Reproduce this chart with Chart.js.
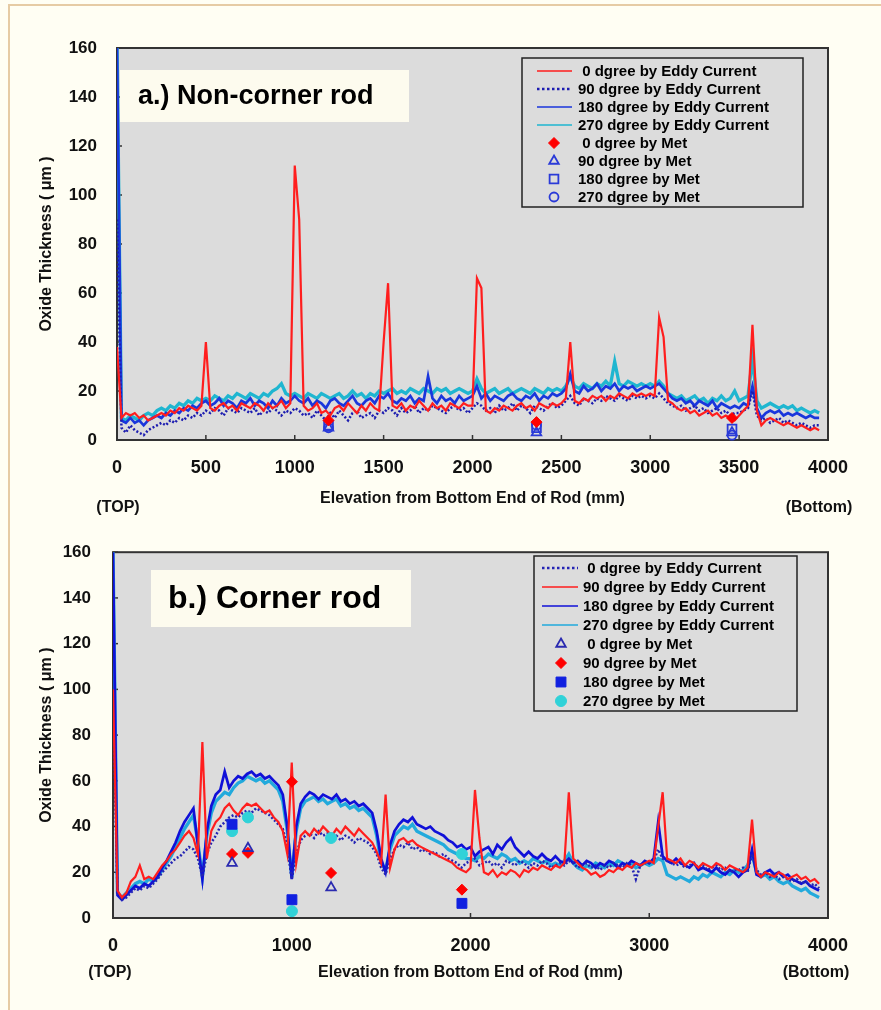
<!DOCTYPE html>
<html>
<head>
<meta charset="utf-8">
<title>Oxide Thickness</title>
<script src="https://cdn.jsdelivr.net/npm/chart.js@4.4.0/dist/chart.umd.min.js"></script>
<style>
  html, body { margin: 0; padding: 0; background: #fffef3; }
  body { width: 881px; height: 1010px; position: relative; overflow: hidden; }
  .marco { position: absolute; left: 8px; top: 4px; width: 900px; height: 1100px;
           border-left: 2px solid #e6cba4; border-top: 2px solid #e6cba4; }
  canvas { position: absolute; left: 0; }
  #graficoA { top: 0; }
  #graficoB { top: 520px; }
</style>
</head>
<body>
<div class="marco"></div>
<canvas id="graficoA" width="881" height="520"></canvas>
<canvas id="graficoB" width="881" height="490"></canvas>
<script>
// Elevacion (mm) de cada lectura de corriente de Foucault, cada 25 mm
const elevacion = [
  0, 25, 50, 75, 100, 125, 150, 175, 200, 225, 250, 275, 300, 325, 350, 375, 400, 425, 450, 475,
  500, 525, 550, 575, 600, 625, 650, 675, 700, 725, 750, 775, 800, 825, 850, 875, 900, 925, 950, 975,
  1000, 1025, 1050, 1075, 1100, 1125, 1150, 1175, 1200, 1225, 1250, 1275, 1300, 1325, 1350, 1375, 1400, 1425, 1450, 1475,
  1500, 1525, 1550, 1575, 1600, 1625, 1650, 1675, 1700, 1725, 1750, 1775, 1800, 1825, 1850, 1875, 1900, 1925, 1950, 1975,
  2000, 2025, 2050, 2075, 2100, 2125, 2150, 2175, 2200, 2225, 2250, 2275, 2300, 2325, 2350, 2375, 2400, 2425, 2450, 2475,
  2500, 2525, 2550, 2575, 2600, 2625, 2650, 2675, 2700, 2725, 2750, 2775, 2800, 2825, 2850, 2875, 2900, 2925, 2950, 2975,
  3000, 3025, 3050, 3075, 3100, 3125, 3150, 3175, 3200, 3225, 3250, 3275, 3300, 3325, 3350, 3375, 3400, 3425, 3450, 3475,
  3500, 3525, 3550, 3575, 3600, 3625, 3650, 3675, 3700, 3725, 3750, 3775, 3800, 3825, 3850, 3875, 3900, 3925, 3950
];

const ticksY = [0, 20, 40, 60, 80, 100, 120, 140, 160];

// ---- a.) barra no esquinera ----
const eddy0A = [
  38, 9, 11, 10, 11, 9, 10, 8, 9, 10, 11, 10, 12, 11, 13, 12, 14, 13, 12, 14,
  40, 13, 12, 14, 15, 13, 14, 12, 15, 14, 13, 15, 14, 12, 15, 13, 14, 16, 13, 15,
  112, 90, 14, 12, 13, 15, 11, 12, 10, 13, 14, 12, 15, 13, 11, 14, 12, 15, 13, 12,
  40, 64, 14, 13, 15, 12, 14, 13, 16, 14, 12, 15, 13, 14, 12, 15, 14, 13, 15, 14,
  14, 66, 62, 12, 11, 13, 12, 14, 13, 12, 14, 15, 13, 14, 12, 15, 14, 13, 15, 14,
  15, 17, 40, 16, 15, 17, 16, 18, 17, 18, 16, 18, 17, 19, 18, 17, 19, 18, 19, 18,
  19, 18, 50, 42, 16, 15, 13, 12, 13, 11, 12, 10, 11, 12, 10, 11, 9, 10, 9, 8,
  10, 12, 14, 47, 12, 6, 8, 9, 8, 7, 6, 7, 6, 5, 6, 5, 4, 5, 4
];
const eddy90A = [
  90, 5, 3, 6, 4, 3, 2, 4, 5, 6, 7, 6, 8, 7, 9, 8, 10, 9, 11, 10,
  12, 11, 13, 12, 10, 13, 12, 11, 13, 12, 11, 13, 10, 12, 11, 13, 12, 10, 12, 11,
  13, 12, 10, 11, 9, 12, 10, 8, 11, 9, 12, 10, 8, 11, 12, 9, 10, 11, 9, 12,
  11, 13, 12, 10, 13, 11, 12, 14, 11, 13, 12, 14, 13, 12, 11, 13, 14, 12, 13, 11,
  13, 15, 14, 12, 13, 11, 14, 12, 13, 15, 12, 14, 13, 11, 14, 13, 12, 14, 15, 13,
  14, 16, 18, 15, 14, 17, 16, 15, 17, 16, 18, 17, 16, 18, 17, 16, 18, 17, 18, 17,
  18, 17, 19, 17, 15, 14, 13, 14, 12, 13, 14, 12, 13, 11, 12, 13, 11, 12, 10, 11,
  11, 12, 13, 20, 10, 8, 9, 7, 8, 9, 7, 8, 7, 6, 7, 6, 5, 6, 6
];
const eddy180A = [
  160, 8, 7, 9, 7, 8, 6, 8, 9, 10, 9, 11, 10, 12, 11, 13, 12, 14, 13, 15,
  16, 14, 15, 17, 14, 16, 15, 13, 16, 15, 17, 14, 16, 15, 13, 16, 14, 17, 15, 16,
  18, 16, 15, 17, 14, 16, 15, 13, 16, 17, 15, 14, 16, 18, 15, 14, 16, 17, 15, 18,
  17, 19, 16, 15, 17, 16, 18, 15, 17, 16, 26, 17, 15, 18, 16, 17, 15, 18, 16, 17,
  18, 22, 17, 19, 16, 18, 17, 16, 18, 19, 17, 16, 18, 17, 19, 16, 18, 17, 19, 18,
  19, 21, 27, 20, 19, 22, 20, 21, 23, 20, 22, 21, 23, 20, 22, 21, 22, 20, 21, 22,
  21, 22, 23, 21, 19, 17, 16, 17, 15, 16, 14, 16, 15, 14, 16, 13, 15, 14, 13, 14,
  13, 15, 14, 22, 13, 9, 11, 12, 11, 12, 10, 11, 10, 11, 10, 9, 10, 9, 9
];
const eddy270A = [
  163, 9, 8, 10, 9, 8, 10, 11, 10, 12, 13, 12, 14, 13, 15, 14, 16, 15, 17, 16,
  17, 16, 18, 17, 16, 18, 17, 19, 18, 17, 19, 18, 17, 19, 18, 20, 21, 23, 19, 18,
  19, 18, 17, 19, 18, 17, 19, 18, 17, 18, 19, 17, 18, 20, 18, 19, 17, 19, 18, 20,
  19, 20, 21, 19, 20, 19, 21, 20, 19, 21, 20, 19, 21, 20, 21, 19, 20, 21, 20, 19,
  20, 25, 21, 19, 20, 21, 19, 20, 21, 19, 20, 21, 20, 19, 21, 20, 19, 21, 20, 21,
  20, 22, 26, 22, 21, 23, 22, 21, 23, 22, 24, 22, 32, 23, 22, 24, 23, 22, 23, 22,
  23, 22, 24, 22, 19, 18, 17, 18, 16, 17, 18, 16, 17, 15, 17, 16, 18, 16, 17, 20,
  16, 17, 18, 33, 16, 13, 14, 15, 14, 13, 14, 13, 14, 12, 13, 12, 11, 12, 11
];
// metalografia (a)
const metElevA = [1190, 2360, 3460];
const met0A = [8, 7.3, 9];
const met90A = [5, 3, 3];
const met180A = [6, 5, 4.5];
const met270A = [5, 6, 2];

// ---- b.) barra esquinera ----
const eddy0B = [
  95, 11, 8, 9, 11, 13, 12, 14, 13, 15, 17, 20, 22, 24, 26, 27, 29, 31, 30, 26,
  18, 28, 33, 36, 40, 42, 44, 45, 44, 46, 47, 46, 48, 47, 46, 45, 43, 41, 39, 31,
  17, 28, 34, 36, 37, 35, 38, 36, 37, 35, 36, 34, 36, 35, 33, 35, 34, 33, 31, 28,
  22, 19, 26, 30, 32, 31, 33, 30, 31, 29, 30, 28, 29, 27, 28, 26, 25, 24, 22, 24,
  25, 26, 23, 24, 25, 23, 24, 22, 25, 24, 23, 25, 24, 22, 24, 23, 25, 24, 22, 23,
  24, 23, 25, 24, 22, 23, 24, 22, 23, 21, 23, 22, 24, 23, 22, 24, 23, 17, 23, 24,
  24, 25, 30, 26, 25, 24, 23, 24, 22, 23, 24, 22, 23, 21, 22, 23, 21, 22, 20, 21,
  21, 22, 20, 28, 21, 19, 20, 18, 19, 17, 18, 17, 16, 17, 15, 16, 14, 15, 13
];
const eddy90B = [
  100, 12, 9, 11, 16, 18, 23, 17, 18, 17, 20, 23, 25, 28, 30, 33, 36, 38, 35, 28,
  77, 26, 38, 42, 44, 48, 50, 47, 45, 48, 50, 49, 50, 48, 46, 47, 44, 42, 38, 28,
  68, 24, 36, 38, 36, 39, 37, 40, 38, 36, 39, 37, 40, 38, 36, 39, 37, 35, 33, 29,
  24, 54, 22, 30, 34, 35, 33, 34, 32, 31, 30, 29, 28, 27, 26, 25, 24, 22, 21, 20,
  22, 56, 35, 20, 19, 21, 18, 20, 19, 21, 20, 18, 21, 20, 22, 21, 23, 22, 21, 23,
  22, 24, 55, 26, 24, 22, 21, 19, 20, 18, 19, 21, 20, 22, 21, 23, 22, 24, 23, 24,
  25, 24, 40, 55, 26, 25, 24, 26, 23, 25, 24, 22, 24, 23, 22, 24, 23, 21, 23, 22,
  21, 20, 22, 43, 20, 18, 20, 19, 18, 20, 19, 17, 18, 19, 17, 18, 16, 17, 15
];
const eddy180B = [
  160, 10, 8, 10, 12, 14, 13, 15, 14, 16, 18, 22, 25, 29, 33, 38, 42, 45, 48, 32,
  17, 38, 49, 54, 56, 64, 57, 60, 62, 61, 63, 64, 62, 63, 61, 62, 60, 58, 54, 40,
  17, 40, 50, 53, 55, 54, 52, 54, 53, 52, 54, 51, 52, 50, 51, 49, 50, 48, 46, 38,
  26, 20, 32, 38, 41, 43, 42, 44, 41, 40, 39, 40, 38, 37, 36, 34, 33, 31, 32, 30,
  31, 27, 29, 30, 31, 28, 32, 30, 33, 35, 31, 29, 27, 29, 27, 26, 28, 26, 25, 27,
  25, 24, 26, 24, 25, 23, 25, 24, 22, 24, 23, 25, 24, 22, 24, 23, 25, 24, 23, 25,
  24, 26, 42, 27, 25, 24, 26, 24, 23, 22, 24, 21, 22, 21, 20, 22, 20, 19, 21, 20,
  18, 20, 21, 30, 19, 18, 20, 21, 19, 20, 18, 19, 17, 16, 15, 16, 14, 13, 12
];
const eddy270B = [
  162, 11, 9, 11, 13, 15, 16, 15, 17, 16, 18, 21, 24, 27, 31, 35, 39, 42, 45, 33,
  18, 36, 46, 51, 53, 55, 54, 57, 59, 60, 62, 61, 60, 61, 59, 60, 58, 56, 51, 38,
  18, 38, 48, 51, 52, 53, 51, 52, 50, 51, 52, 49, 50, 48, 49, 47, 48, 46, 44, 36,
  24, 21, 30, 36, 38, 40, 39, 41, 38, 37, 36, 35, 34, 33, 32, 30, 29, 28, 27, 26,
  26, 25, 27, 26, 28, 27, 26, 28, 27, 25, 26, 24, 25, 24, 26, 25, 24, 25, 23, 24,
  23, 25, 28, 24, 22, 21, 23, 22, 24, 23, 22, 24, 23, 25, 24, 23, 24, 22, 23, 24,
  23, 24, 26, 25, 19, 18, 17, 18, 17, 16, 18, 17, 19, 18, 20, 19, 18, 20, 19, 21,
  20, 21, 23, 28, 20, 18, 19, 17, 18, 16, 15, 16, 14, 13, 12, 13, 11, 10, 9
];
// metalografia (b)
const met0ElevB = [666, 755, 1220];
const met0B = [24, 30.5, 13.3];
const met90ElevB = [666, 755, 1001, 1220, 1952];
const met90B = [28, 28.5, 59.6, 19.7, 12.4];
const met180ElevB = [666, 1001, 1952];
const met180B = [41, 8, 6.4];
const met270ElevB = [666, 755, 1001, 1220, 1952];
const met270B = [38, 44, 3, 35, 28];

const FUENTE = "'Liberation Sans', Arial, sans-serif";

function puntos(xs, ys) {
  return ys.map((y, i) => ({ x: xs[i], y: y }));
}

function serieLinea(label, valores, color, ancho, orden, guiones) {
  return {
    type: 'line', label: label, data: puntos(elevacion, valores),
    borderColor: color, borderWidth: ancho, borderDash: guiones || [],
    pointRadius: 0, tension: 0, fill: false, order: orden
  };
}

function serieMet(label, xs, ys, estilo, color, relleno, radio) {
  return {
    type: 'line', label: label, data: puntos(xs, ys), showLine: false,
    pointStyle: estilo, pointRadius: radio, pointHoverRadius: radio,
    borderColor: color, backgroundColor: relleno ? color : 'rgba(0,0,0,0)',
    pointBorderWidth: relleno ? 1 : 1.8, clip: false, order: 0
  };
}

// Dibuja un marcador de leyenda con el mismo estilo que el dataset
function dibujarMarcador(ctx, ds, x, y) {
  const r = ds.pointRadius;
  ctx.save();
  ctx.strokeStyle = ds.borderColor;
  ctx.fillStyle = ds.backgroundColor;
  ctx.lineWidth = ds.pointBorderWidth;
  ctx.beginPath();
  if (ds.pointStyle === 'rectRot') {
    ctx.moveTo(x, y - r); ctx.lineTo(x + r, y); ctx.lineTo(x, y + r); ctx.lineTo(x - r, y);
  } else if (ds.pointStyle === 'triangle') {
    const h = r * 0.866;
    ctx.moveTo(x, y - r); ctx.lineTo(x + h, y + r / 2); ctx.lineTo(x - h, y + r / 2);
  } else if (ds.pointStyle === 'rect') {
    const s = r * Math.SQRT1_2;
    ctx.rect(x - s, y - s, 2 * s, 2 * s);
  } else {
    ctx.arc(x, y, r, 0, Math.PI * 2);
  }
  ctx.closePath();
  ctx.fill();
  ctx.stroke();
  ctx.restore();
}

// Fondo gris del area, marco, marcas interiores, rotulo y leyenda
const marcoPlot = {
  id: 'marcoPlot',
  beforeDatasetsDraw(chart) {
    const { ctx, chartArea: a } = chart;
    ctx.save();
    ctx.fillStyle = '#dcdcdc';
    ctx.fillRect(a.left, a.top, a.right - a.left, a.bottom - a.top);
    ctx.strokeStyle = '#333';
    ctx.lineWidth = 2;
    ctx.strokeRect(a.left, a.top, a.right - a.left, a.bottom - a.top);
    ctx.lineWidth = 1.5;
    chart.scales.x.ticks.forEach(t => {
      const px = chart.scales.x.getPixelForValue(t.value);
      ctx.beginPath(); ctx.moveTo(px, a.bottom); ctx.lineTo(px, a.bottom - 5); ctx.stroke();
    });
    chart.scales.y.ticks.forEach(t => {
      const py = chart.scales.y.getPixelForValue(t.value);
      ctx.beginPath(); ctx.moveTo(a.left, py); ctx.lineTo(a.left + 5, py); ctx.stroke();
    });
    ctx.restore();
  },
  afterDatasetsDraw(chart, args, o) {
    const ctx = chart.ctx;
    ctx.save();
    // rotulo del grafico
    ctx.fillStyle = '#fdfbee';
    ctx.fillRect(o.rotulo.x, o.rotulo.y, o.rotulo.w, o.rotulo.h);
    ctx.fillStyle = '#000';
    ctx.font = 'bold ' + o.rotulo.size + 'px ' + FUENTE;
    ctx.textBaseline = 'middle';
    ctx.textAlign = 'left';
    ctx.fillText(o.rotulo.texto, o.rotulo.tx, o.rotulo.y + o.rotulo.h / 2 + 1);

    // leyenda
    const L = o.leyenda;
    ctx.fillStyle = '#dcdcdc';
    ctx.fillRect(L.x, L.y, L.w, L.h);
    ctx.strokeStyle = '#222';
    ctx.lineWidth = 1.5;
    ctx.strokeRect(L.x, L.y, L.w, L.h);
    ctx.font = 'bold 15px ' + FUENTE;
    chart.data.datasets.forEach((ds, i) => {
      const y = L.fila0 + i * L.paso;
      if (ds.showLine === false) {
        dibujarMarcador(ctx, ds, L.marca, y);
      } else {
        ctx.save();
        ctx.strokeStyle = ds.borderColor;
        ctx.lineWidth = ds.borderDash.length ? 2.5 : 1.6;
        ctx.setLineDash(ds.borderDash.length ? [2.5, 2.5] : []);
        ctx.beginPath(); ctx.moveTo(L.linea0, y); ctx.lineTo(L.linea1, y); ctx.stroke();
        ctx.restore();
      }
      ctx.fillStyle = '#000';
      ctx.fillText(ds.label, L.texto, y + 1);
    });
    ctx.restore();
  },
  afterDraw(chart, args, o) {
    const ctx = chart.ctx;
    const x = chart.scales.x;
    ctx.save();
    ctx.fillStyle = '#111';
    ctx.font = 'bold 16px ' + FUENTE;
    ctx.textAlign = 'center';
    ctx.textBaseline = 'middle';
    ctx.fillText('(TOP)', x.getPixelForValue(0) + o.extremos.dxTop, o.extremos.y);
    ctx.fillText('(Bottom)', x.getPixelForValue(4000) + o.extremos.dxBottom, o.extremos.y);
    ctx.restore();
  }
};

function crearGrafico(canvasId, datasets, ajustes) {
  const canvas = document.getElementById(canvasId);
  if (!canvas) {
    console.debug('Canvas no encontrado:', canvasId);
    return null;
  }
  return new Chart(canvas, {
    data: { datasets: datasets },
    plugins: [marcoPlot],
    options: {
      responsive: false,
      animation: false,
      events: [],
      layout: { padding: ajustes.padding },
      plugins: {
        legend: { display: false },
        tooltip: { enabled: false },
        marcoPlot: ajustes.marco
      },
      scales: {
        x: {
          type: 'linear', min: 0, max: 4000,
          grid: { display: false, drawTicks: false },
          border: { display: false },
          ticks: { stepSize: ajustes.pasoX, padding: 17, color: '#111',
                   callback: (v) => String(v),
                   font: { family: FUENTE, size: 18, weight: 'bold' } },
          title: { display: true, text: 'Elevation from Bottom End of Rod (mm)', color: '#111',
                   font: { family: FUENTE, size: 16, weight: 'bold' },
                   padding: { top: 0, bottom: ajustes.tituloX } },
          afterFit: (s) => { s.height = ajustes.altoX; }
        },
        y: {
          type: 'linear', min: 0, max: 160,
          afterBuildTicks: (s) => { s.ticks = ticksY.map(v => ({ value: v })); },
          grid: { display: false, drawTicks: false },
          border: { display: false },
          ticks: { padding: ajustes.padY, color: '#111',
                   callback: (v) => String(v),
                   font: { family: FUENTE, size: 17, weight: 'bold' } },
          title: { display: true, text: 'Oxide Thickness ( μm )', color: '#111',
                   font: { family: FUENTE, size: 16, weight: 'bold' },
                   padding: { top: ajustes.tituloY, bottom: 0 } },
          afterFit: (s) => { s.width = ajustes.anchoY; }
        }
      }
    }
  });
}

// a.) Non-corner rod
const rojo = '#ff1e1e';
crearGrafico('graficoA', [
  serieLinea(' 0 dgree by Eddy Current', eddy0A, rojo, 2.2, 1),
  serieLinea('90 dgree by Eddy Current', eddy90A, '#1c1cb0', 2.5, 2, [2, 2]),
  serieLinea('180 dgree by Eddy Current', eddy180A, '#1a36dc', 2.7, 3),
  serieLinea('270 dgree by Eddy Current', eddy270A, '#1fb6d0', 3.3, 4),
  serieMet(' 0 dgree by Met', metElevA, met0A, 'rectRot', '#ff0000', true, 5.5),
  serieMet('90 dgree by Met', metElevA, met90A, 'triangle', '#2a3ad8', false, 5.5),
  serieMet('180 dgree by Met', metElevA, met180A, 'rect', '#2a3ad8', false, 6.2),
  serieMet('270 dgree by Met', metElevA, met270A, 'circle', '#2a3ad8', false, 4.5)
], {
  padding: { left: 0, top: 48, right: 53, bottom: 0 },
  anchoY: 117, altoX: 80, pasoX: 500, padY: 20, tituloX: 12, tituloY: 37,
  marco: {
    rotulo: { x: 120, y: 70, w: 289, h: 52, tx: 138, size: 27, texto: 'a.) Non-corner rod' },
    leyenda: { x: 522, y: 58, w: 281, h: 149, fila0: 71, paso: 18, linea0: 537, linea1: 572, marca: 554, texto: 578 },
    extremos: { y: 508, dxTop: 1, dxBottom: -9 }
  }
});

// b.) Corner rod
crearGrafico('graficoB', [
  serieLinea(' 0 dgree by Eddy Current', eddy0B, '#2424b4', 2.5, 2, [2, 2]),
  serieLinea('90 dgree by Eddy Current', eddy90B, rojo, 2.2, 1),
  serieLinea('180 dgree by Eddy Current', eddy180B, '#1010d8', 2.7, 3),
  serieLinea('270 dgree by Eddy Current', eddy270B, '#22aadc', 3.3, 4),
  serieMet(' 0 dgree by Met', met0ElevB, met0B, 'triangle', '#2a2ab0', false, 5.5),
  serieMet('90 dgree by Met', met90ElevB, met90B, 'rectRot', '#ff0000', true, 5.5),
  serieMet('180 dgree by Met', met180ElevB, met180B, 'rect', '#1020e0', true, 7),
  serieMet('270 dgree by Met', met270ElevB, met270B, 'circle', '#30d2d8', true, 5.5)
], {
  padding: { left: 0, top: 25, right: 53, bottom: 0 },
  anchoY: 113, altoX: 92, pasoX: 1000, padY: 22, tituloX: 28, tituloY: 37,
  marco: {
    rotulo: { x: 151, y: 50, w: 260, h: 57, tx: 168, size: 32, texto: 'b.) Corner rod' },
    leyenda: { x: 534, y: 36, w: 263, h: 155, fila0: 48, paso: 19, linea0: 542, linea1: 578, marca: 561, texto: 583 },
    extremos: { y: 453, dxTop: -3, dxBottom: -12 }
  }
});
</script>
</body>
</html>
